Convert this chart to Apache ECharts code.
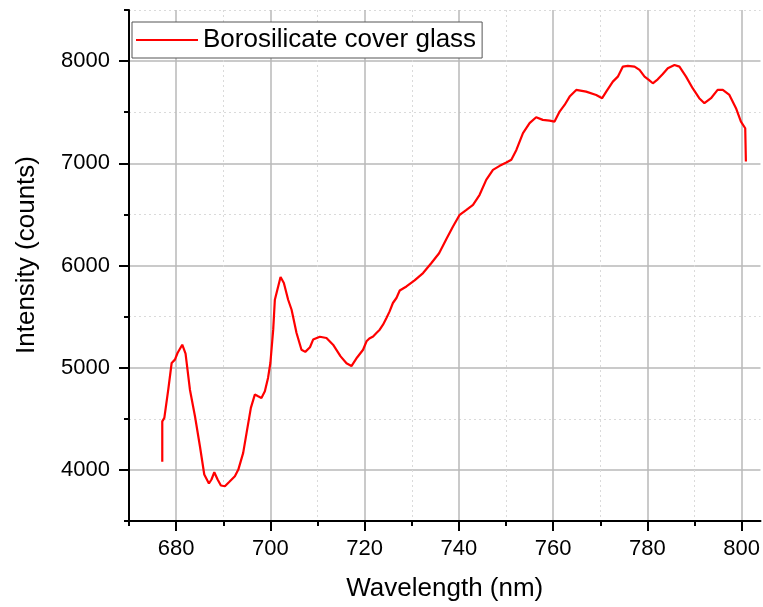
<!DOCTYPE html>
<html>
<head>
<meta charset="utf-8">
<title>Borosilicate cover glass spectrum</title>
<script src="https://cdn.jsdelivr.net/npm/echarts@6/dist/echarts.min.js"></script>
<style>
  html, body { margin: 0; padding: 0; background: #ffffff; }
  #chart { width: 763px; height: 607px; }
</style>
</head>
<body>
<div id="chart"></div>
<script>
// Emission spectrum of a borosilicate cover glass
const seriesName = 'Borosilicate cover glass';

const wavelength = [
  677.06, 677.06, 677.5, 678.33, 679.05, 679.75, 680.3, 681.3, 682.0, 682.93,
  684.0, 685.05, 685.97, 686.96, 687.5, 688.1, 688.8, 689.5, 690.35, 691.2,
  692.47, 693.2, 694.23, 694.95, 695.86, 696.7, 697.4, 698.1, 698.83, 699.5,
  700.0, 700.6, 700.95, 702.16, 702.86, 703.77, 704.5, 705.55, 706.6, 707.4,
  708.4, 709.07, 710.5, 711.9, 713.3, 714.9, 716.15, 717.2, 718.4, 719.67,
  720.4, 721.0, 721.8, 722.5, 723.2, 723.9, 724.63, 725.3, 726.0, 726.75,
  727.45, 728.87, 730.6, 732.4, 734.17, 735.8, 737.35, 738.75, 740.17, 741.6,
  743.0, 744.4, 745.8, 747.23, 748.65, 750.07, 751.13, 752.2, 753.6, 755.0,
  756.4, 757.8, 759.25, 760.3, 761.37, 762.43, 763.5, 764.9, 767.0, 769.14,
  770.4, 771.27, 772.67, 773.73, 774.8, 775.85, 777.27, 778.33, 779.4, 780.3,
  781.15, 782.2, 783.27, 784.33, 785.75, 786.8, 788.2, 789.6, 791.0, 792.1,
  793.5, 794.9, 796.0, 797.4, 798.8, 799.85, 800.76, 800.9
];

const intensity = [
  4080, 4475, 4509, 4785, 5046, 5079, 5144, 5225, 5137, 4785,
  4525, 4231, 3955, 3867, 3906, 3977, 3906, 3847, 3840, 3879,
  3938, 4003, 4167, 4362, 4607, 4737, 4720, 4704, 4769, 4900,
  5046, 5372, 5665, 5887, 5828, 5665, 5567, 5340, 5176, 5155,
  5200, 5275, 5303, 5291, 5225, 5111, 5043, 5016, 5100, 5176,
  5258, 5285, 5306, 5340, 5372, 5421, 5486, 5551, 5633, 5682,
  5755, 5795, 5854, 5926, 6024, 6120, 6260, 6382, 6496, 6545,
  6594, 6692, 6838, 6936, 6975, 7007, 7034, 7131, 7295, 7393,
  7451, 7425, 7418, 7408, 7506, 7571, 7653, 7718, 7701, 7669,
  7637, 7701, 7799, 7848, 7946, 7953, 7946, 7914, 7848, 7816,
  7783, 7822, 7874, 7930, 7962, 7946, 7848, 7735, 7637, 7588,
  7637, 7718, 7718, 7669, 7539, 7408, 7343, 7017
];

// Axis ticks: labelled (major) and unlabelled (minor) positions
const xMajorTicks = [680, 700, 720, 740, 760, 780, 800];
const xMinorTicks = [670, 690, 710, 730, 750, 770, 790];
const yMajorTicks = [4000, 5000, 6000, 7000, 8000];
const yMinorTicks = [3500, 4500, 5500, 6500, 7500, 8500];

const xTitle = 'Wavelength (nm)';
const yTitle = 'Intensity (counts)';

const FONT = '"Liberation Sans", Arial, Helvetica, sans-serif';
const points = wavelength.map((w, i) => [w, intensity[i]]);
const plainNumber = (v) => String(v);

const chart = echarts.init(document.getElementById('chart'), null, { renderer: 'canvas' });

const xRange = { min: 670, max: 804, interval: 10 };
const yRange = { min: 3500, max: 8500, interval: 500 };

chart.setOption({
  animation: false,
  backgroundColor: '#ffffff',
  grid: { left: 129, top: 10, right: 2, bottom: 86, containLabel: false },
  legend: {
    left: 132,
    top: 22,
    orient: 'horizontal',
    backgroundColor: '#ffffff',
    borderColor: '#555555',
    borderWidth: 1,
    borderRadius: 0,
    padding: [5, 6, 5, 4],
    itemWidth: 62,
    itemHeight: 14,
    textStyle: { fontFamily: FONT, fontSize: 26, color: '#000000' },
    data: [{ name: seriesName, icon: 'path://M0,0 L62,0 L62,2.2 L0,2.2 Z', itemStyle: { color: '#ff0000' } }]
  },
  xAxis: [
    {
      type: 'value',
      position: 'bottom',
      min: xRange.min, max: xRange.max, interval: xRange.interval,
      axisLine: { show: true, onZero: false, lineStyle: { color: '#000000', width: 2 } },
      axisTick: { show: true, inside: false, length: 10, customValues: xMajorTicks,
                  lineStyle: { color: '#000000', width: 2 } },
      axisLabel: { show: true, margin: 17, customValues: xMajorTicks, formatter: plainNumber,
                   fontFamily: FONT, fontSize: 22, color: '#000000' },
      splitLine: { show: true, lineStyle: { color: '#b8b8b8', width: 1.5, type: 'solid' } },
      name: xTitle,
      nameLocation: 'middle',
      nameGap: 55,
      nameTextStyle: { fontFamily: FONT, fontSize: 26, color: '#000000' }
    },
    {
      type: 'value',
      position: 'bottom',
      offset: 0,
      min: xRange.min, max: xRange.max, interval: xRange.interval,
      axisLine: { show: false, onZero: false },
      axisTick: { show: true, inside: false, length: 5, customValues: xMinorTicks,
                  lineStyle: { color: '#000000', width: 2 } },
      axisLabel: { show: false },
      splitLine: { show: true, lineStyle: { color: '#dadada', width: 1, type: [2, 3] } }
    }
  ],
  yAxis: [
    {
      type: 'value',
      position: 'left',
      min: yRange.min, max: yRange.max, interval: yRange.interval,
      axisLine: { show: true, onZero: false, lineStyle: { color: '#000000', width: 2 } },
      axisTick: { show: true, inside: false, length: 10, customValues: yMajorTicks,
                  lineStyle: { color: '#000000', width: 2 } },
      axisLabel: { show: true, margin: 19, customValues: yMajorTicks, formatter: plainNumber,
                   fontFamily: FONT, fontSize: 22, color: '#000000' },
      splitLine: { show: true, lineStyle: { color: '#b8b8b8', width: 1.5, type: 'solid' } }
    },
    {
      type: 'value',
      position: 'left',
      offset: 0,
      min: yRange.min, max: yRange.max, interval: yRange.interval,
      axisLine: { show: false, onZero: false },
      axisTick: { show: true, inside: false, length: 5, customValues: yMinorTicks,
                  lineStyle: { color: '#000000', width: 2 } },
      axisLabel: { show: false },
      splitLine: { show: true, lineStyle: { color: '#dadada', width: 1, type: [2, 3] } }
    }
  ],
  graphic: [
    {
      type: 'text',
      x: 27,
      y: 255,
      rotation: Math.PI / 2,
      style: {
        text: yTitle,
        fontFamily: FONT,
        fontSize: 26,
        fill: '#000000',
        align: 'center',
        verticalAlign: 'middle'
      }
    }
  ],
  series: [
    {
      name: seriesName,
      type: 'line',
      xAxisIndex: 0,
      yAxisIndex: 0,
      data: points,
      symbol: 'none',
      showSymbol: false,
      smooth: false,
      clip: true,
      lineStyle: { color: '#ff0000', width: 2.2 },
      itemStyle: { color: '#ff0000' },
      z: 5
    }
  ]
});
</script>
</body>
</html>
